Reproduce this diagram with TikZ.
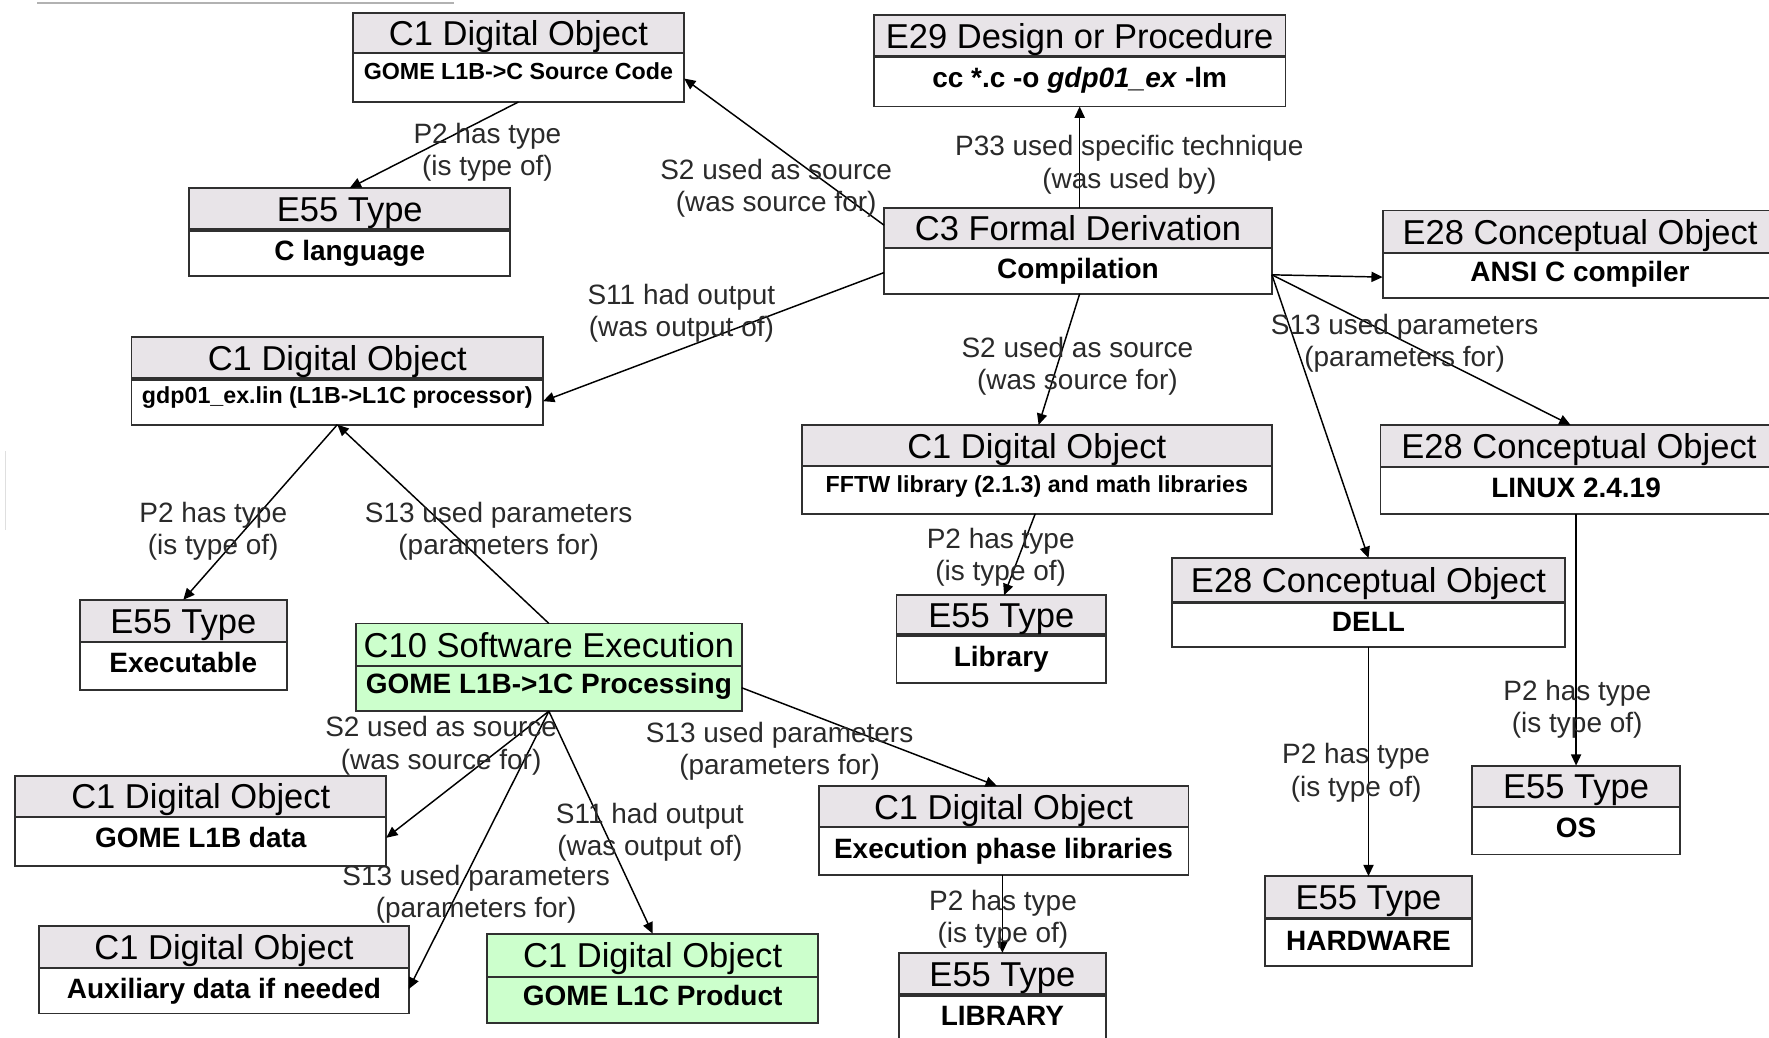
\documentclass[tikz,border=0pt]{standalone}
\usepackage{fontspec}
\setmainfont{Liberation Sans}
\usetikzlibrary{arrows.meta,fit,calc}
\definecolor{hdrgray}{HTML}{E8E4E8}
\definecolor{grn}{HTML}{CCFFCC}
\definecolor{bord}{HTML}{303030}
\definecolor{lbl}{HTML}{2A2A2A}
\newcommand\obox[9][1pt]{%
  \node[fit={(#3,#4) (#5,#6)}, inner sep=0pt, fill=#9] (#2) {};
  \fill[#8] (#3,#4) rectangle (#5,#7);
  \draw[bord, line width=#1] (#3,#7) -- (#5,#7);
  \draw[bord, line width=0.8pt] (#2.north west) rectangle (#2.south east);
}
\tikzset{
  hdr/.style={font=\fontsize{15.3pt}{18pt}\selectfont, inner sep=0pt, text height=11pt, text depth=0pt},
  bodyt/.style={font=\fontsize{12.4pt}{15pt}\selectfont\bfseries, inner sep=0pt, text height=8.9pt, text depth=0pt},
  bodys/.style={font=\fontsize{10.3pt}{12pt}\selectfont\bfseries, inner sep=0pt, text height=7.4pt, text depth=0pt},
  lab/.style={font=\fontsize{12.4pt}{14.25pt}\selectfont, text=lbl, align=center, inner sep=0pt},
  arr/.style={-{Triangle[length=5pt,width=4.5pt]}, line width=0.65pt, black},
}
\begin{document}
\begin{tikzpicture}[x=0.5pt,y=-0.5pt]
\useasboundingbox (0,0) rectangle (1568,920);
\clip (0,0) rectangle (1568,920);
\fill[white] (0,0) rectangle (1568,920);
\draw[gray!60, line width=0.8pt] (33,3) -- (402,3);
\draw[gray!25, line width=0.6pt] (5,400) -- (5,470);

% boxes
\obox{b1}{313}{12}{606}{90}{47}{hdrgray}{white}
\obox{b2}{775}{14}{1139}{94}{50}{hdrgray}{white}
\obox[1.6pt]{b3}{168}{167}{452}{244}{204}{hdrgray}{white}
\obox{b4}{784}{185}{1127}{260}{220}{hdrgray}{white}
\obox{b5}{1226}{187}{1575}{264}{224}{hdrgray}{white}
\obox[1.6pt]{b6}{117}{299}{481}{376}{336}{hdrgray}{white}
\obox{b7}{711}{377}{1127}{455}{413}{hdrgray}{white}
\obox{b8}{1224}{377}{1575}{455}{414}{hdrgray}{white}
\obox[1.6pt]{b9}{1039}{495}{1387}{573}{534}{hdrgray}{white}
\obox[1.6pt]{b10}{795}{528}{980}{605}{563}{hdrgray}{white}
\obox{b11}{71}{532}{254}{611}{569}{hdrgray}{white}
\obox{b12}{316}{553}{657}{630}{590}{grn}{grn}
\obox{b13}{14}{688}{342}{767}{724}{hdrgray}{white}
\obox{b14}{726}{697}{1053}{775}{733}{hdrgray}{white}
\obox{b15}{1305}{679}{1489}{757}{715}{hdrgray}{white}
\obox[1.6pt]{b16}{1122}{777}{1304}{856}{814}{hdrgray}{white}
\obox{b17}{35}{821}{362}{898}{858}{hdrgray}{white}
\obox{b18}{432}{828}{725}{906}{866}{grn}{grn}
\obox[1.6pt]{b19}{797}{845}{980}{930}{882}{hdrgray}{white}

% headers
\node[hdr] (b1h) at (459.5,29.5) {C1 Digital Object};
\node[hdr] (b2h) at (957,32) {E29 Design or Procedure};
\node[hdr] (b3h) at (310,185.5) {E55 Type};
\node[hdr] (b4h) at (955.5,202.5) {C3 Formal Derivation};
\node[hdr] (b5h) at (1400.5,205.5) {E28 Conceptual Object};
\node[hdr] (b6h) at (299,317.5) {C1 Digital Object};
\node[hdr] (b7h) at (919,395) {C1 Digital Object};
\node[hdr] (b8h) at (1399.5,395.5) {E28 Conceptual Object};
\node[hdr] (b9h) at (1213,514.5) {E28 Conceptual Object};
\node[hdr] (b10h) at (887.5,545.5) {E55 Type};
\node[hdr] (b11h) at (162.5,550.5) {E55 Type};
\node[hdr] (b12h) at (486.5,571.5) {C10 Software Execution};
\node[hdr] (b13h) at (178,706) {C1 Digital Object};
\node[hdr] (b14h) at (889.5,715) {C1 Digital Object};
\node[hdr] (b15h) at (1397,697) {E55 Type};
\node[hdr] (b16h) at (1213,795.5) {E55 Type};
\node[hdr] (b17h) at (198.5,839.5) {C1 Digital Object};
\node[hdr] (b18h) at (578.5,847) {C1 Digital Object};
\node[hdr] (b19h) at (888.5,863.5) {E55 Type};

% bodies
\node[bodys] (b1t) at (459.5,63) {GOME L1B->C Source Code};
\node[bodyt] (b2t) at (957,69) {cc *.c -o \textit{gdp01\_ex} -lm};
\node[bodyt] (b3t) at (310,222) {C language};
\node[bodyt] (b4t) at (955.5,238) {Compilation};
\node[bodyt] (b5t) at (1400.5,241) {ANSI C compiler};
\node[bodys] (b6t) at (299,350) {gdp01\_ex.lin (L1B->L1C processor)};
\node[bodys] (b7t) at (919,429) {FFTW library (2.1.3) and math libraries};
\node[bodyt] (b8t) at (1397,432) {LINUX 2.4.19};
\node[bodyt] (b9t) at (1213,551) {DELL};
\node[bodyt] (b10t) at (887.5,582) {Library};
\node[bodyt] (b11t) at (162.5,587) {Executable};
\node[bodyt] (b12t) at (486.5,606) {GOME L1B->1C Processing};
\node[bodyt] (b13t) at (178,742) {GOME L1B data};
\node[bodyt] (b14t) at (889.5,752) {Execution phase libraries};
\node[bodyt] (b15t) at (1397,733) {OS};
\node[bodyt] (b16t) at (1213,834) {HARDWARE};
\node[bodyt] (b17t) at (198.5,876) {Auxiliary data if needed};
\node[bodyt] (b18t) at (578.5,882) {GOME L1C Product};
\node[bodyt] (b19t) at (888.5,900) {LIBRARY};

% connectors
\draw[arr] (b1.south) -- (b3.north);
\draw[arr] ($(b4.north west)+(0,15)$) -- ($(b1.north east)+(0,58)$);
\draw[arr] (b2.south |- b4.north) -- (b2.south);
\draw[arr] ($(b4.north east)+(0,59)$) -- ($(b5.north west)+(0,59)$);
\draw[arr] ($(b4.north west)+(0,57)$) -- ($(b6.north east)+(0,57)$);
\draw[arr] ($(b4.south)+(1.5,0)$) -- ($(b7.north west)+(210,0)$);
\draw[arr] ($(b4.north east)+(0,59)$) -- ($(b8.north)+(-7.5,0)$);
\draw[arr] ($(b4.north east)+(0,59)$) -- (b9.north);
\draw[arr] (b6.south) -- (b11.north);
\draw[arr] (b12.north) -- (b6.south);
\draw[arr] ($(b7.south west)+(207,0)$) -- ($(b10.north)+(2.5,0)$);
\draw[arr] (b15.north |- b8.south) -- (b15.north);
\draw[arr] (b9.south) -- (b16.north);
\draw[arr] (b12.south) -- ($(b13.north east)+(0,55)$);
\draw[arr] (b12.south) -- ($(b17.north east)+(0,56)$);
\draw[arr] (b12.south) -- (b18.north);
\draw[arr] ($(b12.north east)+(0,57)$) -- ($(b14.north west)+(158,0)$);
\draw[arr] (b19.north |- b14.south) -- (b19.north);

% labels
\node[lab] (l1) at (432,135) {P2 has type\\(is type of)};
\node[lab] (l2) at (688,167) {S2 used as source\\(was source for)};
\node[lab] (l3) at (1001,146) {P33 used specific technique\\(was used by)};
\node[lab] (l4) at (604,277.5) {S11 had output\\(was output of)};
\node[lab] (l5) at (955,325) {S2 used as source\\(was source for)};
\node[lab] (l6) at (1245,304) {S13 used parameters\\(parameters for)};
\node[lab] (l7) at (189,471) {P2 has type\\(is type of)};
\node[lab] (l8) at (442,471) {S13 used parameters\\(parameters for)};
\node[lab] (l9) at (887,494) {P2 has type\\(is type of)};
\node[lab] (l10) at (1398,629) {P2 has type\\(is type of)};
\node[lab] (l11) at (1202,685) {P2 has type\\(is type of)};
\node[lab] (l12) at (391,661) {S2 used as source\\(was source for)};
\node[lab] (l13) at (691,666) {S13 used parameters\\(parameters for)};
\node[lab] (l14) at (576,738) {S11 had output\\(was output of)};
\node[lab] (l15) at (422,793) {S13 used parameters\\(parameters for)};
\node[lab] (l16) at (889,814.5) {P2 has type\\(is type of)};
\end{tikzpicture}
\end{document}
